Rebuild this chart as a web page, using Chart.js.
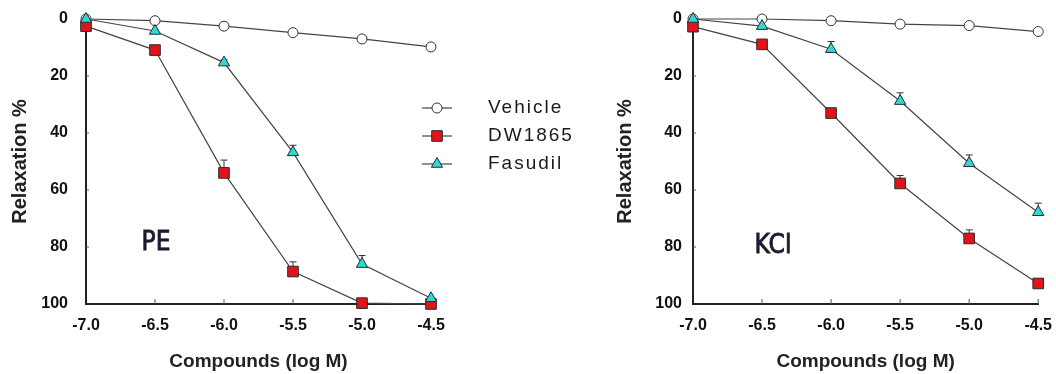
<!DOCTYPE html>
<html>
<head>
<meta charset="utf-8">
<script src="https://cdn.jsdelivr.net/npm/chart.js@4.4.1/dist/chart.umd.min.js"></script>
<style>
  html, body { margin: 0; padding: 0; background: #fff; }
  #wrap { position: relative; width: 1056px; height: 374px; }
  .box { position: absolute; top: 0; height: 374px; }
</style>
</head>
<body>
<div id="wrap">
  <div class="box" style="left:0;width:600px"><canvas id="peChart"></canvas></div>
  <div class="box" style="left:600px;width:456px"><canvas id="kclChart"></canvas></div>
</div>
<script>
// doses (log M) and tick values
const doses = [-7.0, -6.5, -6.0, -5.5, -5.0, -4.5];
const xTickValues = [-7.0, -6.5, -6.0, -5.5, -5.0, -4.5];
const yTickValues = [0, 20, 40, 60, 80, 100];
const seriesNames = ["Vehicle", "DW1865", "Fasudil"];

// PE panel
const peVehicle = [0, 0.6, 2.5, 4.8, 7.0, 9.8];
const peDW1865 = [2.5, 10.9, 54, 88.6, 99.7, 100];
const peFasudil = [0, 4.2, 15.3, 46.8, 86, 98];
const peDW1865Err = [0, 0, 4.5, 3.4, 0, 0];
const peFasudilErr = [0, 0, 1, 2.5, 3, 0];

// KCl panel
const kclVehicle = [0, 0, 0.6, 1.8, 2.3, 4.4];
const kclDW1865 = [2.7, 8.9, 33, 57.7, 77, 92.8];
const kclFasudil = [0, 2.5, 10.6, 28.8, 50.6, 67.8];
const kclDW1865Err = [0, 0, 1, 2.8, 3, 1];
const kclFasudilErr = [0, 0, 2.7, 2.9, 2.9, 3.2];

const FONT = "'Liberation Sans', Arial, sans-serif";
const LINE = "#444";

const markers = [
  { pointStyle: "circle", radius: 5, fill: "#ffffff", border: "#333" },
  { pointStyle: "rect", radius: 7.5, fill: "#e3131b", border: "#2a2a2a" },
  { pointStyle: "triangle", radius: 6.5, fill: "#2fd8d8", border: "#2a2a2a" },
];

function series(values, i, errors, order) {
  const m = markers[i];
  return {
    label: seriesNames[i],
    data: doses.map((d, k) => ({ x: d, y: values[k] })),
    errors: errors,
    order: order,
    clip: false,
    borderColor: LINE,
    borderWidth: 1.2,
    pointStyle: m.pointStyle,
    pointRadius: m.radius,
    pointBackgroundColor: m.fill,
    pointBorderColor: m.border,
    pointBorderWidth: 1,
    tension: 0,
  };
}

const extras = {
  id: "extras",
  beforeDatasetsDraw(chart) {
    const { ctx, scales: { x, y } } = chart;
    ctx.save();
    ctx.strokeStyle = "#333";
    ctx.lineWidth = 1;
    chart.data.datasets.forEach((ds) => {
      (ds.errors || []).forEach((e, i) => {
        if (!e) return;
        const px = x.getPixelForValue(doses[i]);
        const p0 = y.getPixelForValue(ds.data[i].y);
        const p1 = y.getPixelForValue(ds.data[i].y - e);
        ctx.beginPath();
        ctx.moveTo(px, p0);
        ctx.lineTo(px, p1);
        ctx.moveTo(px - 3.5, p1);
        ctx.lineTo(px + 3.5, p1);
        ctx.stroke();
      });
    });
    // small inward ticks
    ctx.strokeStyle = "#555";
    xTickValues.slice(1).forEach((v) => {
      const px = x.getPixelForValue(v);
      ctx.beginPath();
      ctx.moveTo(px, y.bottom);
      ctx.lineTo(px, y.bottom - 5);
      ctx.stroke();
    });
    yTickValues.slice(0, -1).forEach((v) => {
      const py = y.getPixelForValue(v);
      ctx.beginPath();
      ctx.moveTo(x.left, py);
      ctx.lineTo(x.left + 3, py);
      ctx.stroke();
    });
    ctx.restore();
  },
  afterDraw(chart, args, opts) {
    const { ctx } = chart;
    ctx.save();
    ctx.fillStyle = "#1b1b30";
    ctx.strokeStyle = "#1b1b30";
    ctx.lineWidth = 0.8;
    ctx.font = "26px 'Liberation Sans Narrow', 'DejaVu Sans Condensed', " + FONT;
    ctx.textAlign = "center";
    ctx.textBaseline = "middle";
    ctx.fillText(opts.tag, opts.tagX, opts.tagY);
    ctx.strokeText(opts.tag, opts.tagX, opts.tagY);

    if (opts.legend) {
      const rows = [108, 136, 164];
      ctx.textAlign = "left";
      ctx.font = "19px " + FONT;
      ctx.letterSpacing = "2px";
      rows.forEach((ry, i) => {
        const m = markers[i];
        ctx.strokeStyle = LINE;
        ctx.lineWidth = 1.2;
        ctx.beginPath();
        ctx.moveTo(422, ry);
        ctx.lineTo(452, ry);
        ctx.stroke();
        ctx.fillStyle = m.fill;
        ctx.strokeStyle = m.border;
        ctx.lineWidth = 1;
        Chart.helpers.drawPoint(ctx, { pointStyle: m.pointStyle, radius: m.radius, rotation: 0, borderWidth: 1 }, 437, ry);
        ctx.fillStyle = "#1a1a1a";
        ctx.fillText(seriesNames[i], 488, ry);
      });
    }
    ctx.restore();
  },
};

function makeChart(id, datasets, p) {
  return new Chart(document.getElementById(id), {
    type: "line",
    data: { datasets: datasets },
    plugins: [extras],
    options: {
      responsive: true,
      maintainAspectRatio: false,
      animation: false,
      layout: { padding: { top: 19, right: p.right, bottom: 0, left: 0 } },
      plugins: {
        legend: { display: false },
        tooltip: { enabled: false },
        extras: { tag: p.tag, tagX: p.tagX, tagY: p.tagY, legend: p.legend },
      },
      scales: {
        x: {
          type: "linear",
          min: -7,
          max: -4.5,
          afterBuildTicks: (s) => { s.ticks = xTickValues.map((v) => ({ value: v })); },
          afterFit: (s) => { s.height = 70; },
          grid: { display: false, drawTicks: true, tickLength: 8 },
          border: { display: true, color: "#222", width: 2 },
          ticks: {
            color: "#111",
            padding: 4,
            maxRotation: 0,
            font: { family: FONT, size: 16, weight: "bold" },
            callback: (v) => Number(v).toFixed(1),
          },
          title: {
            display: true,
            text: "Compounds (log M)",
            color: "#222",
            padding: { top: 0, bottom: 1 },
            font: { family: FONT, size: 19, weight: "bold" },
          },
        },
        y: {
          reverse: true,
          min: 0,
          max: 100,
          afterBuildTicks: (s) => { s.ticks = yTickValues.map((v) => ({ value: v })); },
          afterFit: (s) => { s.width = p.yWidth; },
          grid: { display: false, drawTicks: true, tickLength: p.yTick },
          border: { display: true, color: "#222", width: 2 },
          ticks: {
            color: "#111",
            padding: 2,
            font: { family: FONT, size: 16, weight: "bold" },
          },
          title: {
            display: true,
            text: "Relaxation %",
            color: "#222",
            padding: { top: p.titlePad, bottom: 0 },
            font: { family: FONT, size: 20, weight: "bold" },
          },
        },
      },
    },
  });
}

makeChart("peChart", [
  series(peFasudil, 2, peFasudilErr, 0),
  series(peDW1865, 1, peDW1865Err, 1),
  series(peVehicle, 0, null, 2),
], { right: 169, yWidth: 86, yTick: 16, titlePad: 8, tag: "PE", tagX: 156, tagY: 243, legend: true });

makeChart("kclChart", [
  series(kclFasudil, 2, kclFasudilErr, 0),
  series(kclDW1865, 1, kclDW1865Err, 1),
  series(kclVehicle, 0, null, 2),
], { right: 16, yWidth: 93, yTick: 9, titlePad: 13, tag: "KCl", tagX: 173, tagY: 246, legend: false });
</script>
</body>
</html>
